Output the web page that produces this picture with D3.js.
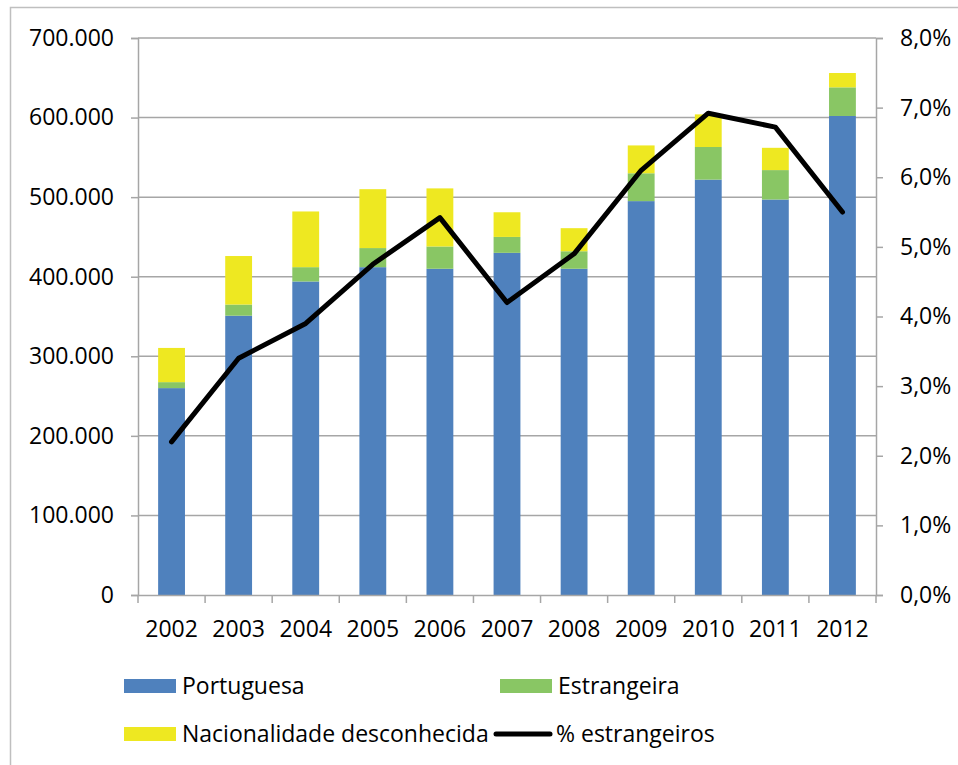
<!DOCTYPE html>
<html><head><meta charset="utf-8">
<script src="https://cdn.jsdelivr.net/npm/d3@7"></script>
<style>body{margin:0;background:#fff}svg{display:block}text{font-family:"Open Sans",sans-serif;fill:#000}</style>
</head><body>
<svg id="c" width="958" height="765"></svg>
<script>
const years = ["2002","2003","2004","2005","2006","2007","2008","2009","2010","2011","2012"];
const portuguesa = [260000,351000,394000,412000,410000,430000,410000,495000,522000,497000,602000];
const estrangeira = [7500,14000,18000,24000,28000,20000,22000,35000,41000,37000,36000];
const desconhecida = [43000,61000,70000,74000,73000,31000,29000,35000,41000,28000,18000];
const pctEstrangeiros = [2.2,3.4,3.9,4.75,5.42,4.2,4.9,6.1,6.92,6.72,5.5];
const leftTicks = [0,100000,200000,300000,400000,500000,600000,700000];
const rightTicks = [0,1,2,3,4,5,6,7,8];
const seriesNames = ["Portuguesa","Estrangeira","Nacionalidade desconhecida","% estrangeiros"];
const colors = ["#4F81BD","#89C664","#EEE821"];

const svg = d3.select("#c");
const L = 138, R = 876, T = 38, B = 595;
const grid = "#A6A6A6";

svg.append("rect").attr("x",10.5).attr("y",7.5).attr("width",1000).attr("height",800)
  .attr("fill","none").attr("stroke","#BFBFBF").attr("stroke-width",1.5);

const x = d3.scaleBand().domain(years).range([L,R]).paddingInner(0.6).paddingOuter(0.3);
const xb = d3.scaleBand().domain(years).range([L,R]);
const y = d3.scaleLinear().domain([0,700000]).range([B,T]);
const y2 = d3.scaleLinear().domain([0,8]).range([B,T]);

// gridlines
svg.append("g").selectAll("line").data(leftTicks.slice(1)).join("line")
  .attr("x1",L).attr("x2",R).attr("y1",d=>y(d)).attr("y2",d=>y(d))
  .attr("stroke",grid).attr("stroke-width",1.5);

// stacked bars
const rows = years.map((yr,i)=>({year:yr,p:portuguesa[i],e:estrangeira[i],d:desconhecida[i]}));
const stack = d3.stack().keys(["p","e","d"])(rows);
svg.append("g").selectAll("g").data(stack).join("g").attr("fill",(d,i)=>colors[i])
  .selectAll("rect").data(d=>d).join("rect")
  .attr("x",d=>x(d.data.year)).attr("width",x.bandwidth())
  .attr("y",d=>y(d[1])).attr("height",d=>y(d[0])-y(d[1]));

// left axis
const la = svg.append("g").attr("transform",`translate(${L},0)`)
  .call(d3.axisLeft(y).tickValues(leftTicks).tickSize(7).tickPadding(17)
    .tickFormat(d=>d===0?"0":d3.format(",")(d).replace(/,/g,".")));
la.select(".domain").attr("stroke",grid).attr("stroke-width",1.5);
la.selectAll(".tick line").attr("stroke",grid).attr("stroke-width",1.5);
la.selectAll("text").attr("font-size",23).attr("font-family","Open Sans").attr("fill","#000");

// right axis
const ra = svg.append("g").attr("transform",`translate(${R},0)`)
  .call(d3.axisRight(y2).tickValues(rightTicks).tickSize(7).tickPadding(17)
    .tickFormat(d=>d.toFixed(1).replace(".",",")+"%"));
ra.select(".domain").attr("stroke",grid).attr("stroke-width",1.5);
ra.selectAll(".tick line").attr("stroke",grid).attr("stroke-width",1.5);
ra.selectAll("text").attr("font-size",23).attr("font-family","Open Sans").attr("fill","#000");

// bottom axis
const ba = svg.append("g").attr("transform",`translate(0,${B})`)
  .call(d3.axisBottom(xb).tickSize(0).tickPadding(26));
ba.select(".domain").attr("stroke",grid).attr("stroke-width",1.5);
ba.selectAll("text").attr("font-size",23).attr("font-family","Open Sans").attr("fill","#000");
const bounds = years.map(yr=>xb(yr)).concat([R]);
svg.append("g").selectAll("line").data(bounds).join("line")
  .attr("x1",d=>d).attr("x2",d=>d).attr("y1",B).attr("y2",B+8)
  .attr("stroke",grid).attr("stroke-width",1.5);

// line
const line = d3.line().x((d,i)=>xb(years[i])+xb.bandwidth()/2).y(d=>y2(d));
svg.append("path").datum(pctEstrangeiros).attr("d",line)
  .attr("fill","none").attr("stroke","#000").attr("stroke-width",5)
  .attr("stroke-linejoin","round").attr("stroke-linecap","round");

// legend
const leg = svg.append("g");
const items = [
  {name:seriesNames[0],type:"rect",c:colors[0],x:124,y:686},
  {name:seriesNames[1],type:"rect",c:colors[1],x:500,y:686},
  {name:seriesNames[2],type:"rect",c:colors[2],x:124,y:734},
  {name:seriesNames[3],type:"line",c:"#000",x:496,y:734}
];
items.forEach(it=>{
  if(it.type==="rect"){
    leg.append("rect").attr("x",it.x).attr("y",it.y-7).attr("width",52).attr("height",14).attr("fill",it.c);
  } else {
    leg.append("line").attr("x1",it.x).attr("x2",it.x+54).attr("y1",it.y).attr("y2",it.y)
      .attr("stroke",it.c).attr("stroke-width",5).attr("stroke-linecap","round");
  }
  leg.append("text").attr("x",it.type==="rect"?it.x+58:it.x+60).attr("y",it.y).attr("dy","0.35em")
    .attr("font-size",23).text(it.name);
});
</script>
</body></html>
